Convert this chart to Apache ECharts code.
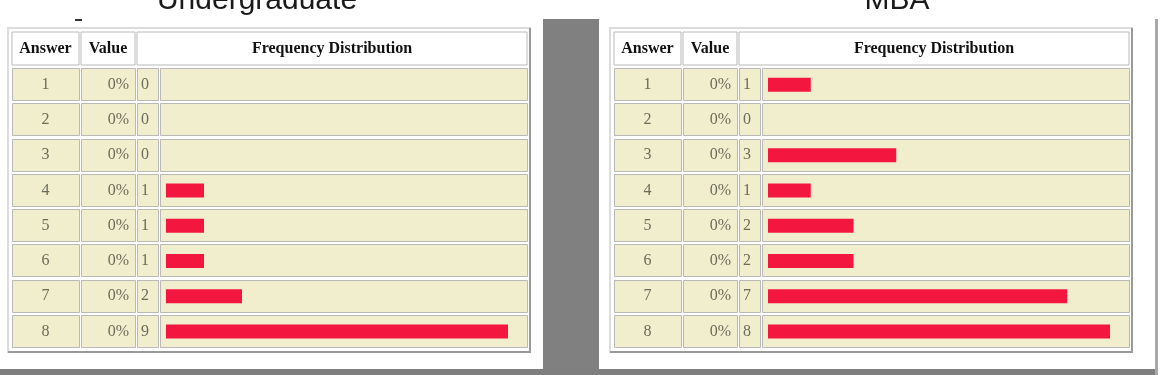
<!DOCTYPE html>
<html>
<head>
<meta charset="utf-8">
<script src="https://cdn.jsdelivr.net/npm/echarts@6/dist/echarts.min.js"></script>
<style>
html, body { margin: 0; padding: 0; background: #fff; }
#main { width: 1168px; height: 375px; }
</style>
</head>
<body>
<div id="main"></div>
<script>
var answers = ['1', '2', '3', '4', '5', '6', '7', '8'];
var valueLabels = ['0%', '0%', '0%', '0%', '0%', '0%', '0%', '0%'];
var undergradCounts = [0, 0, 0, 1, 1, 1, 2, 9];
var mbaCounts = [1, 0, 3, 1, 2, 2, 7, 8];
var panelTitles = ['Undergraduate', 'MBA'];
var headerLabels = ['Answer', 'Value', 'Frequency Distribution'];

var myChart = echarts.init(document.getElementById('main'));

var panels = [
    { title: panelTitles[0], counts: undergradCounts, left: 8, titleX: 257 },
    { title: panelTitles[1], counts: mbaCounts, left: 610, titleX: 897 }
];

var cellFill = '#f0eecd';
var cellLine = '#b9b9b9';
var textColor = '#6c6c5c';
var serif = '"Liberation Serif", "DejaVu Serif", serif';

var grids = [], xAxes = [], yAxes = [], series = [], graphics = [];

// page chrome: grey separators
graphics.push(
    { type: 'rect', shape: { x: 543, y: 19, width: 56, height: 356 }, style: { fill: '#808080' }, silent: true },
    { type: 'rect', shape: { x: 0, y: 369, width: 1158, height: 6 }, style: { fill: '#7f7f7f' }, silent: true },
    { type: 'rect', shape: { x: 1155, y: 19, width: 3, height: 356 }, style: { fill: '#a8a8a8' }, silent: true },
    { type: 'line', shape: { x1: 75, y1: 20, x2: 82, y2: 20 }, style: { stroke: '#333', lineWidth: 2 }, silent: true }
);

panels.forEach(function(p, k) {
    var tx = p.left;

    // title
    graphics.push({
        type: 'text', x: p.titleX, y: 1, silent: true,
        style: { text: p.title, font: '30px "Liberation Sans", Arial, sans-serif', fill: '#1a1a1a', align: 'center', verticalAlign: 'middle' }
    });

    // table frame
    graphics.push(
        { type: 'rect', shape: { x: tx, y: 28, width: 522, height: 324 }, style: { fill: '#fff', stroke: '#dcdcdc', lineWidth: 2 }, silent: true },
        { type: 'polyline', shape: { points: [[tx + 522, 28], [tx + 522, 352], [tx, 352]] }, style: { stroke: '#9a9a9a', lineWidth: 2, fill: null }, silent: true }
    );

    // header cells
    var heads = [[4, 67], [73, 54], [129, 390]];
    heads.forEach(function(h, j) {
        graphics.push({
            type: 'rect', shape: { x: tx + h[0], y: 32, width: h[1], height: 33 },
            style: { fill: '#fff', stroke: cellLine, lineWidth: 1 }, silent: true
        });
        graphics.push({
            type: 'text', x: tx + h[0] + h[1] / 2, y: 49, silent: true,
            style: { text: headerLabels[j], font: 'bold 16px ' + serif, fill: '#111', align: 'center', verticalAlign: 'middle' }
        });
    });

    grids.push({ left: tx + 158, top: 67, width: 342, height: 282 });
    xAxes.push({ type: 'value', gridIndex: k, min: 0, max: 'dataMax', show: false });
    yAxes.push({ type: 'category', gridIndex: k, data: answers, inverse: true, show: false });

    // table body rows: cells and texts placed on the category scale
    series.push({
        type: 'custom',
        xAxisIndex: k,
        yAxisIndex: k,
        silent: true,
        z: 1,
        data: answers.map(function(a, i) { return [0, i, p.counts[i]]; }),
        encode: { x: 0, y: 1 },
        renderItem: function(params, api) {
            var i = api.value(1);
            var yc = api.coord([0, i])[1];
            var band = api.size([0, 1])[1];
            var gx = params.coordSys.x;
            var top = Math.round(yc - band / 2) + 1;
            var h = Math.round(band) - 3;
            var cols = [[-154, 67], [-85, 54], [-29, 21], [-6, 367]];
            var children = cols.map(function(c) {
                return {
                    type: 'rect',
                    shape: { x: gx + c[0] + 0.5, y: top + 0.5, width: c[1], height: h },
                    style: { fill: cellFill, stroke: cellLine, lineWidth: 1 }
                };
            });
            children.push(
                { type: 'text', x: gx - 120.5, y: yc, style: { text: answers[i], font: '16px ' + serif, fill: textColor, align: 'center', verticalAlign: 'middle' } },
                { type: 'text', x: gx - 37, y: yc, style: { text: valueLabels[i], font: '16px ' + serif, fill: textColor, align: 'right', verticalAlign: 'middle' } },
                { type: 'text', x: gx - 25, y: yc, style: { text: String(api.value(2)), font: '16px ' + serif, fill: textColor, align: 'left', verticalAlign: 'middle' } }
            );
            return { type: 'group', children: children };
        }
    });

    series.push({
        type: 'bar',
        xAxisIndex: k,
        yAxisIndex: k,
        data: p.counts,
        barWidth: 14,
        silent: true,
        z: 3,
        itemStyle: { color: '#f3173f' }
    });
});

option = {
    backgroundColor: '#fff',
    animation: false,
    grid: grids,
    xAxis: xAxes,
    yAxis: yAxes,
    graphic: { elements: graphics },
    series: series
};

myChart.setOption(option);
</script>
</body>
</html>
